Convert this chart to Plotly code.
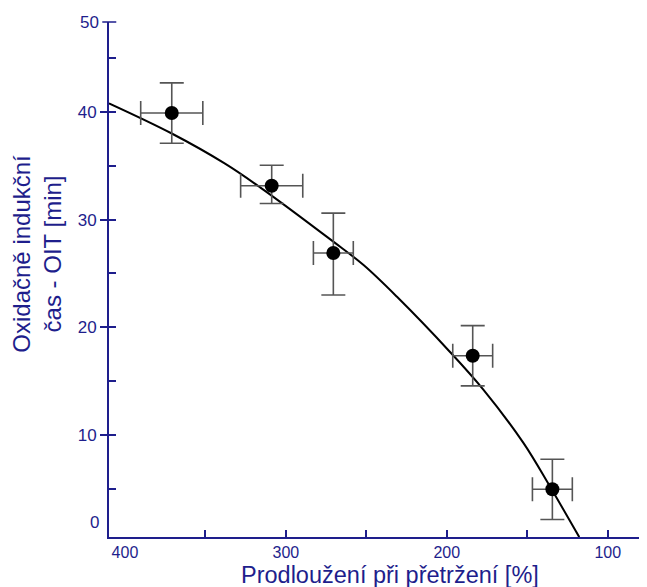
import plotly.graph_objects as go

# ---- data ----
elongation = [370.9, 308.8, 270.5, 183.9, 134.4]          # Prodloužení při přetržení [%]
oit = [39.9, 33.15, 26.9, 17.35, 4.94]                   # OIT [min]
elong_err = [19.3, 19.3, 12.4, 12.4, 12.4]
oit_err_plus = [2.8, 1.9, 3.7, 2.8, 2.8]
oit_err_minus = [2.8, 1.65, 3.9, 2.8, 2.8]

fit_x = [409.9, 370.9, 337.8, 316.0, 270.5, 251.9, 231.1, 198.0, 177.3, 152.4, 135.9, 117.7]
fit_y = [40.8, 38.0, 35.2, 33.0, 27.95, 25.8, 22.85, 17.7, 14.2, 9.25, 5.2, 0.5]

x_major_ticks = [400, 300, 200, 100]
x_minor_ticks = [350, 300, 250, 200, 150, 100]
y_major_ticks = [10, 20, 30, 40]
y_minor_ticks = [5, 10, 15, 20, 25, 30, 35, 40, 45]

x_range = [409.9, 75.6]
y_range = [0.51, 48.36]

NAVY = "#1e1e8c"
FONT = "Arial, Liberation Sans, sans-serif"

fig = go.Figure()

fig.add_trace(go.Scatter(
    x=fit_x, y=fit_y, mode="lines",
    line=dict(color="black", width=2, shape="spline", smoothing=1.0),
    hoverinfo="skip"))

fig.add_trace(go.Scatter(
    x=elongation, y=oit, mode="markers",
    marker=dict(color="black", size=14),
    error_x=dict(type="data", array=elong_err, color="#555555", thickness=1.6, width=12),
    error_y=dict(type="data", array=oit_err_plus, arrayminus=oit_err_minus,
                 color="#555555", thickness=1.6, width=12)))

# empty trace so the overlay tick axes are drawn
fig.add_trace(go.Scatter(x=[], y=[], xaxis="x2", yaxis="y2", showlegend=False))

fig.update_layout(
    width=639, height=579,
    margin=dict(l=101, r=0, t=14, b=50, autoexpand=False),
    paper_bgcolor="white", plot_bgcolor="white",
    showlegend=False,
    font=dict(family=FONT, color=NAVY),
    xaxis=dict(range=x_range, tickvals=x_major_ticks, ticks="", showgrid=False,
               zeroline=False, showline=True, linecolor=NAVY, linewidth=2,
               tickfont=dict(size=16, color=NAVY), ticklabelstandoff=0,
               automargin=False),
    xaxis2=dict(range=x_range, overlaying="x", anchor="y", tickvals=x_minor_ticks,
                ticks="inside", ticklen=7, tickwidth=1.5, tickcolor=NAVY,
                showticklabels=False, showgrid=False, zeroline=False, showline=False,
                side="bottom", automargin=False),
    yaxis=dict(range=y_range, tickvals=y_major_ticks, ticks="outside", ticklen=7,
               tickwidth=1.5, tickcolor=NAVY, showgrid=False, zeroline=False,
               showline=True, linecolor=NAVY, linewidth=2,
               tickfont=dict(size=17, color=NAVY), automargin=False),
    yaxis2=dict(range=y_range, overlaying="y", anchor="x", tickvals=y_minor_ticks,
                ticks="inside", ticklen=7, tickwidth=1.5, tickcolor=NAVY,
                showticklabels=False, showgrid=False, zeroline=False, showline=False,
                side="left", automargin=False),
)

# top "50" label with its tick, and the "0" label as in the reference
fig.add_shape(type="line", xref="paper", yref="paper", x0=-0.0125, x1=0.0135, y0=1, y1=1,
              line=dict(color=NAVY, width=1.5))
fig.add_annotation(text="50", xref="paper", yref="paper", x=-0.015, y=1,
                   xanchor="right", yanchor="middle", showarrow=False,
                   font=dict(size=17, color=NAVY))
fig.add_annotation(text="0", xref="paper", yref="paper", x=-0.015, y=0.029,
                   xanchor="right", yanchor="middle", showarrow=False,
                   font=dict(size=17, color=NAVY))

# axis titles
fig.add_annotation(text="Oxidačně indukční<br>čas - OIT [min]", xref="paper", yref="paper",
                   x=-0.133, y=0.551, xanchor="center", yanchor="middle", textangle=-90,
                   showarrow=False, font=dict(size=24, color=NAVY))
fig.add_annotation(text="Prodloužení při přetržení [%]", xref="paper", yref="paper",
                   x=0.522, y=-0.0735, xanchor="center", yanchor="middle",
                   showarrow=False, font=dict(size=23.5, color=NAVY))

fig.write_html("out.html")
